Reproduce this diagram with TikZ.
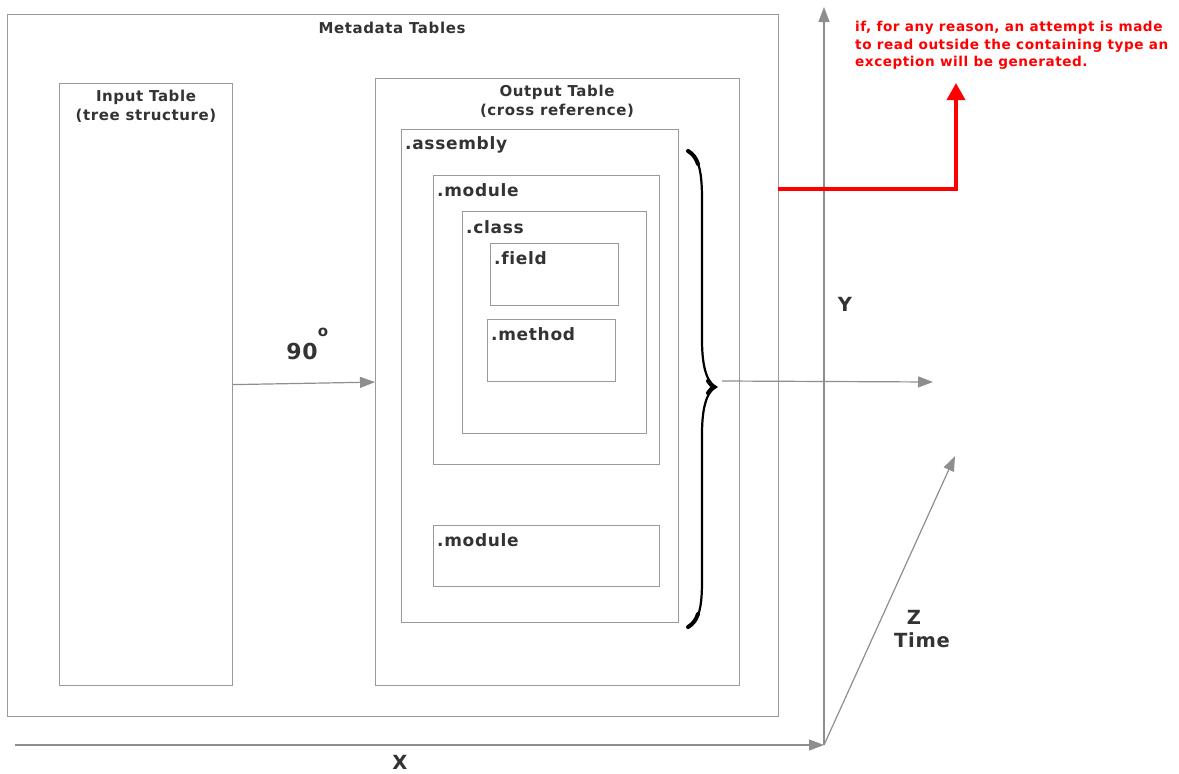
\documentclass[tikz,border=0pt]{standalone}
\usepackage{fontspec}
\setmainfont{DejaVu Sans}[LetterSpace=4, Ligatures=NoCommon]
\usetikzlibrary{arrows.meta}
\definecolor{txt}{HTML}{333333}
\definecolor{ln}{HTML}{9A9A9A}
\definecolor{ax}{HTML}{8E8E8E}
\definecolor{warn}{HTML}{FF0000}
\tikzset{
  box/.style={draw=ln, line width=1.2pt, anchor=north west, inner sep=0pt},
  lbl/.style={text=txt, inner sep=0pt, font=\fontsize{15}{18}\selectfont\bfseries},
  sub/.style={text=txt, inner sep=0pt, anchor=west, font=\fontsize{17}{20}\selectfont\bfseries},
  big/.style={text=txt, inner sep=0pt, font=\fontsize{19.5}{22}\selectfont\bfseries},
  gar/.style={draw=ax, line width=1.2pt, -{Triangle[length=15pt,width=11pt]}},
  redar/.style={draw=warn, line width=3.5pt, -{Triangle[length=17pt,width=18pt]}},
  note/.style={text=warn, inner sep=0pt, anchor=north west, align=left, font=\fontsize{13.6}{17.5}\selectfont\bfseries},
  bracethick/.style={line width=4pt, line cap=round}
}
\begin{document}
\begin{tikzpicture}[x=1pt,y=-1pt]
\useasboundingbox (0,0) rectangle (1179,774);
% boxes
\node[box,minimum width=771,minimum height=702] (meta) at (7,14) {};
\node[box,minimum width=173,minimum height=602] (input) at (59,83) {};
\node[box,minimum width=364,minimum height=607] (output) at (375,78) {};
\node[box,minimum width=277,minimum height=493] (assembly) at (401,129) {};
\node[box,minimum width=226,minimum height=289] (module1) at (433,175) {};
\node[box,minimum width=184,minimum height=222] (class) at (462,211) {};
\node[box,minimum width=128,minimum height=62] (field) at (490,243) {};
\node[box,minimum width=128,minimum height=62] (method) at (487,319) {};
\node[box,minimum width=226,minimum height=61] (module2) at (433,525) {};
% titles
\node[lbl] (metat) at (392,28) {Metadata Tables};
\node[lbl] (inputt1) at (146,97) {Input Table};
\node[lbl] (inputt2) at (146,116) {(tree structure)};
\node[lbl] (outputt1) at (557,92) {Output Table};
\node[lbl] (outputt2) at (557,111) {(cross reference)};
\node[sub] (assemblyl) at (405,145) {.assembly};
\node[sub] (module1l) at (437,190) {.module};
\node[sub] (classl) at (466,227) {.class};
\node[sub] (fieldl) at (494,258) {.field};
\node[sub] (methodl) at (491,334) {.method};
\node[sub] (module2l) at (437,540) {.module};
% 90 degrees
\node[big,font=\fontsize{22}{24}\selectfont\bfseries] (ninety) at (302,351) {90};
\node[lbl] (deg) at (323,332) {o};
\draw[gar] (input.east) -- (output.west);
% brace
\coordinate (btip) at (716,387);
\draw[line width=2.2pt, line cap=round] (688,150) .. controls (700,158) and (702,175) .. (702,200) -- (702,340) .. controls (702,370) and (708,383) .. (btip) .. controls (708,391) and (702,404) .. (702,434) -- (702,580) .. controls (702,605) and (700,620) .. (688,628);
\draw[bracethick] (688,151) .. controls (693,154) and (696,158) .. (698,164);
\draw[bracethick] (688,627) .. controls (693,624) and (696,620) .. (698,614);
\draw[bracethick] (708,381) .. controls (711,385) .. (714,387) .. controls (711,389) .. (708,393);
\coordinate (bstart) at (722,381);
\coordinate (bend) at (933,382);
\draw[gar] (bstart) -- (bend);
% axes
\coordinate (O) at (824,745);
\coordinate (ytop) at (824,7);
\coordinate (xstart) at (15,745);
\coordinate (zend) at (955,456);
\draw[gar] (O) -- (ytop);
\draw[gar] (xstart) -- (O);
\draw[gar] (O) -- (zend);
\node[big] (ylab) at (845,304) {Y};
\node[big] (xlab) at (400,762) {X};
\node[big] (zlab) at (914,617) {Z};
\node[big] (tlab) at (922,640) {Time};
% red note
\node[note] (warnnote) at (855,21) {if, for any reason, an attempt is made\\to read outside the containing type an\\exception will be generated.};
\coordinate (rstart) at (778,189);
\coordinate (rtip) at (956,83);
\draw[redar] (rstart) -| (rtip);
\end{tikzpicture}
\end{document}
